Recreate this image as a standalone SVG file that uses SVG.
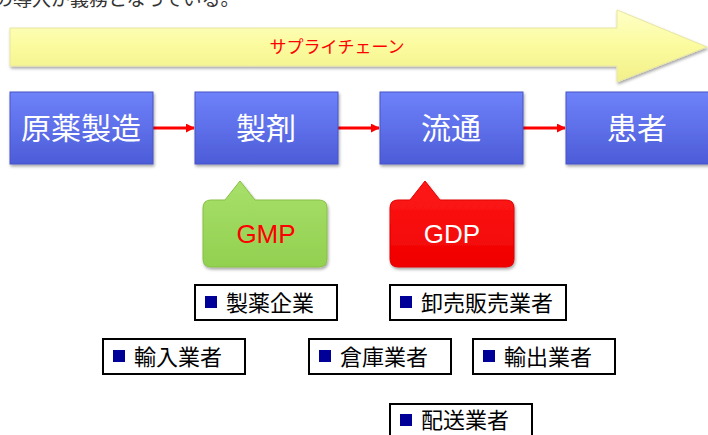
<svg xmlns="http://www.w3.org/2000/svg" width="708" height="435" viewBox="0 0 708 435">
<defs>
<linearGradient id="gYellow" x1="0" y1="0" x2="0" y2="1">
<stop offset="0" stop-color="#FFFFC8"/>
<stop offset="0.5" stop-color="#FBFB9E"/>
<stop offset="1" stop-color="#F2F08A"/>
</linearGradient>
<linearGradient id="gBlue" x1="0" y1="0" x2="0" y2="1">
<stop offset="0" stop-color="#6E82FA"/>
<stop offset="1" stop-color="#4D5CD8"/>
</linearGradient>
<linearGradient id="gGreen" x1="0" y1="0" x2="0" y2="1">
<stop offset="0" stop-color="#A8E06A"/>
<stop offset="1" stop-color="#92D050"/>
</linearGradient>
<linearGradient id="gRed" x1="0" y1="0" x2="0" y2="1">
<stop offset="0" stop-color="#FF1A1A"/>
<stop offset="1" stop-color="#F00000"/>
</linearGradient>
<filter id="shadow" x="-10%" y="-10%" width="125%" height="130%">
<feDropShadow dx="1" dy="2" stdDeviation="1.5" flood-color="#000" flood-opacity="0.35"/>
</filter>
<marker id="arrowRed" viewBox="0 0 10 10" refX="9" refY="5" markerWidth="3" markerHeight="3" orient="auto" markerUnits="strokeWidth">
<path d="M0,0 L10,5 L0,10 z" fill="#FF0000"/>
</marker>
</defs>
<style>
.jp{font-family:"Noto Sans CJK JP","Noto Sans",sans-serif;}
.proc{fill:url(#gBlue);stroke:#4654C4;stroke-width:1;filter:url(#shadow);}
.procText{fill:#FFFFFF;font-size:30px;text-anchor:middle;}
.lbl{fill:#FFFFFF;stroke:#000000;stroke-width:2;}
.lblText{fill:#000000;font-size:22px;}
.bullet{fill:#000099;}
.conn{stroke:#FF0000;stroke-width:3;fill:none;marker-end:url(#arrowRed);}
</style>

<text class="jp" x="-6" y="6" font-size="19" fill="#333333">の導入が義務となっている。</text>

<g id="supplychain">
<polygon points="10,28 617,28 617,10 707,47 617,82 617,66 10,66" fill="url(#gYellow)" stroke="#E8E6A0" stroke-width="1" filter="url(#shadow)"/>
<text class="jp" x="337" y="53" font-size="17" fill="#FF0000" text-anchor="middle">サプライチェーン</text>
</g>

<g id="connectors">
<line class="conn" x1="153" y1="128" x2="194" y2="128"/>
<line class="conn" x1="338" y1="128" x2="379" y2="128"/>
<line class="conn" x1="523" y1="128" x2="565" y2="128"/>
</g>

<g id="n1">
<rect class="proc" x="10" y="92" width="143" height="72"/>
<text class="jp procText" x="81" y="139">原薬製造</text>
</g>
<g id="n2">
<rect class="proc" x="195" y="92" width="143" height="72"/>
<text class="jp procText" x="266" y="139">製剤</text>
</g>
<g id="n3">
<rect class="proc" x="380" y="92" width="143" height="72"/>
<text class="jp procText" x="451" y="139">流通</text>
</g>
<g id="n4">
<rect class="proc" x="566" y="92" width="143" height="72"/>
<text class="jp procText" x="637" y="139">患者</text>
</g>

<g id="gmp">
<path d="M211,200 L225,200 L240,181 L255,200 L319,200 Q327,200 327,208 L327,259 Q327,267 319,267 L211,267 Q203,267 203,259 L203,208 Q203,200 211,200 Z" fill="url(#gGreen)" stroke="#86C044" stroke-width="1" filter="url(#shadow)"/>
<text x="266" y="243" font-family="Liberation Sans, Arial, sans-serif" font-size="26" fill="#FF0000" text-anchor="middle">GMP</text>
</g>
<g id="gdp">
<path d="M398,200 L410,200 L425,181 L440,200 L506,200 Q514,200 514,208 L514,259 Q514,267 506,267 L398,267 Q390,267 390,259 L390,208 Q390,200 398,200 Z" fill="url(#gRed)" stroke="#E00000" stroke-width="1" filter="url(#shadow)"/>
<text x="452" y="243" font-family="Liberation Sans, Arial, sans-serif" font-size="26" fill="#FFFFFF" text-anchor="middle">GDP</text>
</g>

<g id="l1">
<rect class="lbl" x="195" y="285" width="142" height="35"/>
<rect class="bullet" x="205" y="296" width="12" height="12"/>
<text class="jp lblText" x="226" y="311">製薬企業</text>
</g>
<g id="l2">
<rect class="lbl" x="390" y="285" width="176" height="35"/>
<rect class="bullet" x="400" y="296" width="12" height="12"/>
<text class="jp lblText" x="421" y="311">卸売販売業者</text>
</g>
<g id="l3">
<rect class="lbl" x="103" y="339" width="142" height="35"/>
<rect class="bullet" x="113" y="350" width="12" height="12"/>
<text class="jp lblText" x="134" y="365">輸入業者</text>
</g>
<g id="l4">
<rect class="lbl" x="309" y="339" width="142" height="35"/>
<rect class="bullet" x="319" y="350" width="12" height="12"/>
<text class="jp lblText" x="340" y="365">倉庫業者</text>
</g>
<g id="l5">
<rect class="lbl" x="473" y="339" width="142" height="35"/>
<rect class="bullet" x="483" y="350" width="12" height="12"/>
<text class="jp lblText" x="504" y="365">輸出業者</text>
</g>
<g id="l6">
<rect class="lbl" x="390" y="404" width="142" height="35"/>
<rect class="bullet" x="400" y="414" width="12" height="12"/>
<text class="jp lblText" x="421" y="428">配送業者</text>
</g>
</svg>
